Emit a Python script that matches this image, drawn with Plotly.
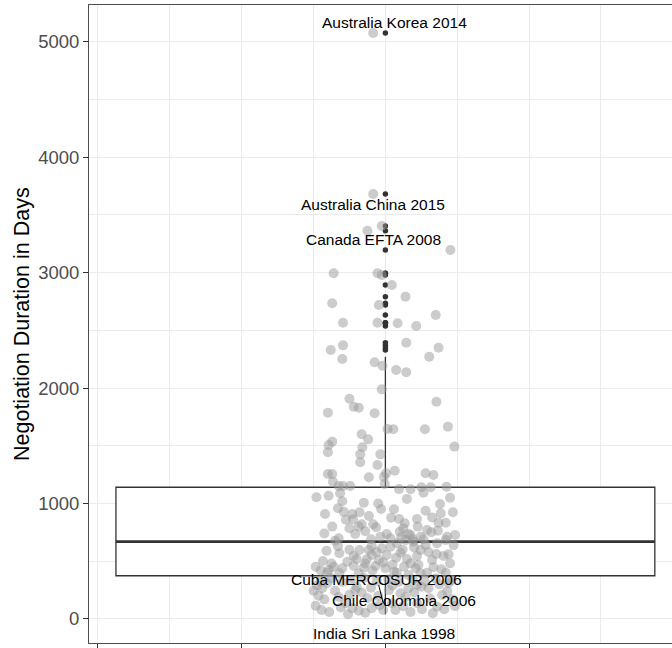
import numpy as np
import plotly.graph_objects as go

# Horizontal jitter offset and negotiation duration (days) of each agreement
jitter_x = [
    -0.017, -0.017, -0.025, -0.005, 0.0905, -0.072, -0.011, -0.005, 0.009, 0.028,
    -0.074, -0.009, 0.070, -0.059, -0.011, 0.017, 0.043, -0.059, -0.076, 0.029,
    0.074, 0.061, -0.060, -0.015, -0.004, 0.015, 0.029, -0.005, -0.050, -0.044,
    -0.037, 0.071, -0.080, -0.015, 0.003, 0.011, 0.055, 0.087, -0.033, -0.024,
    -0.074, -0.079, -0.080, -0.032, -0.035, -0.007, 0.096, -0.035, -0.011, -0.080,
    -0.074, -0.023, 0.001, -0.002, 0.013, 0.056, 0.067, -0.073, -0.065, -0.059,
    -0.049, -0.001, 0.019, 0.035, 0.050, 0.063, 0.085, 0.053, -0.096, -0.079,
    -0.063, -0.030, -0.006, 0.076, -0.084, -0.066, -0.058, -0.046, -0.036, -0.023,
    -0.045, 0.056, 0.077, 0.094, 0.008, 0.019, 0.027, 0.044, 0.074, 0.084,
    -0.074, -0.050, -0.033, -0.017, -0.037, -0.013, 0.025, 0.020, 0.058, 0.064,
    0.073, -0.042, -0.065, 0.002, 0.032, 0.049, 0.086, 0.097, 0.007, 0.022,
    -0.070, -0.064, -0.087, -0.072, -0.053, -0.044, -0.036, -0.023, -0.019, -0.005,
    0.007, 0.016, 0.028, 0.039, 0.053, 0.072, 0.084, -0.007, 0.035, -0.026,
    -0.019, -0.009, 0.002, 0.015, 0.021, 0.035, 0.044, 0.049, 0.056, 0.065,
    0.071, 0.081, 0.090, -0.044, -0.030, -0.014, 0.000, 0.026, 0.042, 0.067,
    -0.081, -0.064, -0.037, 0.016, 0.032, 0.049, 0.084, -0.100, -0.088, -0.081,
    -0.070, -0.056, -0.046, -0.042, -0.025, -0.037, -0.019, -0.003, 0.009, 0.014,
    0.021, 0.032, 0.044, 0.051, 0.060, 0.072, 0.079, 0.097, 0.088, 0.044,
    -0.097, -0.089, -0.093, -0.097, -0.079, -0.052,
    -0.090, -0.075, -0.060, -0.048, -0.030, -0.012, 0.004, 0.018, 0.038, 0.055,
    0.070, 0.092, -0.085, -0.065, -0.050, -0.033, -0.010, 0.005, 0.028, 0.040,
    0.062, 0.086, -0.078, -0.062, -0.028, -0.008, 0.025, 0.035, 0.066, 0.082,
    0.093, -0.095, -0.040, -0.020, 0.010, 0.050, 0.075,
    -0.090, -0.075, -0.060, -0.050, -0.040, -0.028, -0.012, -0.003, 0.010, 0.024,
    0.030, 0.046, 0.060, 0.078, 0.088, -0.082, -0.066, 0.012, 0.040, 0.058,
    -0.018, 0.095,
    -0.085, -0.055, -0.028, -0.010, 0.012, 0.030, 0.045, 0.065, 0.090, -0.060,
    -0.020, 0.038,
]
days = [
    5075, 3681, 3363, 3404, 3196, 2994, 2994, 2979, 2893, 2792,
    2734, 2720, 2633, 2566, 2566, 2561, 2538, 2370, 2330, 2393,
    2350, 2272, 2252, 2223, 2194, 2157, 2137, 1989, 1908, 1839,
    1830, 1882, 1787, 1782, 1646, 1643, 1643, 1666, 1600, 1556,
    1536, 1507, 1444, 1487, 1426, 1426, 1493, 1357, 1334, 1256,
    1256, 1227, 1262, 1232, 1284, 1262, 1247, 1189, 1152, 1152,
    1152, 1169, 1125, 1123, 1141, 1141, 1146, 1094, 1054, 1068,
    1089, 1007, 953, 996, 909, 959, 929, 909, 924, 892,
    863, 938, 915, 924, 877, 866, 829, 866, 834, 834,
    800, 786, 820, 820, 800, 794, 786, 756, 771, 751,
    765, 736, 699, 736, 736, 713, 713, 728, 699, 708,
    678, 569, 502, 453, 496, 546, 598, 598, 632, 612,
    626, 656, 684, 670, 690, 656, 684, 713, 728, 517,
    554, 511, 554, 531, 574, 482, 546, 598, 641, 511,
    563, 546, 482, 459, 445, 459, 439, 453, 439, 448,
    401, 396, 396, 401, 381, 396, 401, 245, 266, 309,
    245, 136, 93, 251, 179, 72, 93, 78, 136, 78,
    222, 266, 136, 84, 266, 107, 208, 113, 309, 294,
    115, 78, 202, 453, 424, 41,
    330, 350, 320, 340, 355, 330, 345, 320, 340, 325,
    350, 335, 170, 190, 210, 230, 200, 250, 190, 230,
    180, 240, 60, 100, 55, 120, 110, 60, 50, 85,
    170, 290, 280, 270, 290, 280, 300,
    420, 480, 440, 600, 520, 480, 580, 490, 470, 600,
    520, 470, 580, 430, 560, 590, 630, 410, 620, 400,
    420, 640,
    740, 860, 760, 1000, 950, 1040, 800, 880, 1050, 1020,
    690, 690,
]

# Agreements named on the chart and where their names are set
label_names = [
    "Australia Korea 2014", "Australia China 2015", "Canada EFTA 2008",
    "Cuba MERCOSUR 2006", "Chile Colombia 2006", "India Sri Lanka 1998",
]
label_x = [0.0125, -0.0167, -0.0167, -0.0125, 0.0264, -0.002]
label_y = [5167, 3586, 3291, 338, 158, -124]

y_ticks = [0, 1000, 2000, 3000, 4000, 5000]
x_ticks = [-0.4, -0.2, 0.0, 0.2, 0.4]

dark = "#333333"
grid = "#EBEBEB"
box_width = 0.75

fig = go.Figure()

# Box summary with outliers drawn at the box centre
fig.add_trace(go.Box(
    x=[0.0] * len(days), y=days, width=box_width,
    boxpoints="outliers", jitter=0, pointpos=0,
    fillcolor="white", line=dict(color=dark, width=1.3),
    whiskerwidth=0,
    marker=dict(color=dark, size=5.5, line=dict(width=0)),
    quartilemethod="linear", hoverinfo="skip", showlegend=False,
))

# Heavier median bar
med = float(np.percentile(days, 50))
fig.add_trace(go.Scatter(
    x=[-box_width / 2, box_width / 2], y=[med, med], mode="lines",
    line=dict(color=dark, width=2.6), hoverinfo="skip", showlegend=False,
))

# Jittered raw observations
fig.add_trace(go.Scatter(
    x=jitter_x, y=days, mode="markers",
    marker=dict(color="rgba(153,153,153,0.5)", size=10, line=dict(width=0)),
    hoverinfo="skip", showlegend=False,
))

# Repelled name labels
for name, lx, ly in zip(label_names, label_x, label_y):
    fig.add_annotation(
        x=lx, y=ly, text=name, showarrow=False,
        font=dict(family="Liberation Sans, Arial, sans-serif", size=15.5, color="black"),
        xanchor="center", yanchor="middle",
    )

# Leader segment from the Cuba MERCOSUR label toward its point
fig.add_trace(go.Scatter(
    x=[-0.0093, -0.003], y=[294, 136], mode="lines",
    line=dict(color="black", width=1), hoverinfo="skip", showlegend=False,
))

# Y axis title
fig.add_annotation(
    xref="paper", yref="paper", x=-0.1149, y=0.5,
    text="Negotiation Duration in Days", textangle=-90, showarrow=False,
    font=dict(family="Liberation Sans, Arial, sans-serif", size=21.5, color="black"),
    xanchor="center", yanchor="middle",
)

fig.update_layout(
    width=672, height=648,
    margin=dict(l=89, r=0, t=5, b=5),
    paper_bgcolor="white", plot_bgcolor="white",
    font=dict(family="Liberation Sans, Arial, sans-serif"),
    xaxis=dict(
        range=[-0.4125, 0.3989], tickvals=x_ticks, showticklabels=False,
        ticks="outside", ticklen=5, tickcolor=dark, tickwidth=1,
        showgrid=True, gridcolor=grid, gridwidth=1.1,
        minor=dict(dtick=0.2, tick0=-0.3, showgrid=True, gridcolor=grid, gridwidth=0.55, ticks=""),
        showline=True, linecolor="#4d4d4d", linewidth=1, mirror=True,
        zeroline=False,
    ),
    yaxis=dict(
        range=[-208, 5318], tickvals=y_ticks, ticktext=[str(v) for v in y_ticks],
        ticks="outside", ticklen=5, tickcolor=dark, tickwidth=1,
        tickfont=dict(size=18.5, color="#4D4D4D"),
        showgrid=True, gridcolor=grid, gridwidth=1.1,
        minor=dict(dtick=1000, tick0=500, showgrid=True, gridcolor=grid, gridwidth=0.55, ticks=""),
        showline=True, linecolor="#4d4d4d", linewidth=1, mirror=False,
        zeroline=False,
    ),
)

fig.write_html("out.html", config={"displayModeBar": False})
